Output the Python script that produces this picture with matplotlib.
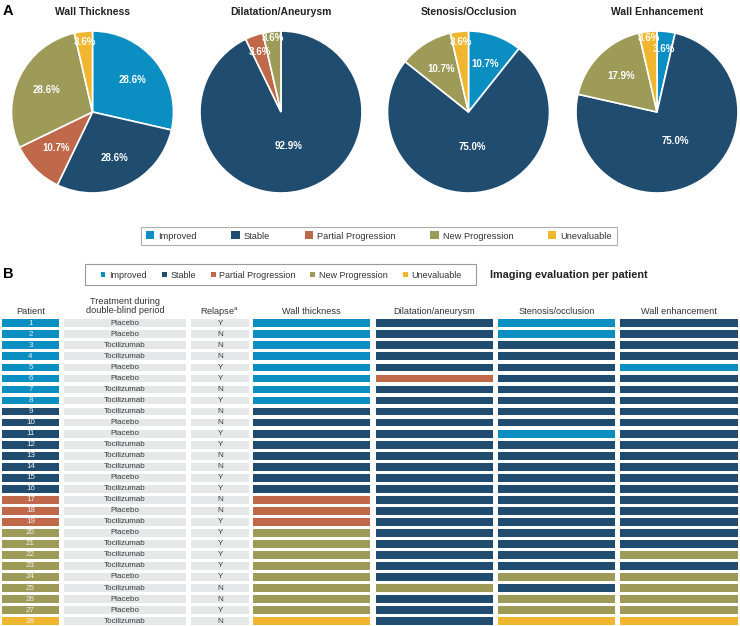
import matplotlib
matplotlib.use('Agg')
import matplotlib.pyplot as plt
from matplotlib.patches import Patch, Rectangle
import numpy as np

plt.rcParams['font.family'] = ['Liberation Sans', 'DejaVu Sans']
plt.rcParams['mathtext.fontset'] = 'custom'
plt.rcParams['mathtext.rm'] = 'Liberation Sans'
plt.rcParams['mathtext.it'] = 'Liberation Sans:italic'
plt.rcParams['mathtext.bf'] = 'Liberation Sans:bold'

W, H = 740, 626

# ---------------- data ----------------
categories = ['Improved', 'Stable', 'Partial Progression', 'New Progression', 'Unevaluable']
cat_colors = ['#0b8ec2', '#1f4c6f', '#c0694a', '#9e9b59', '#f1b630']
code_names = {'I': 'Improved', 'S': 'Stable', 'P': 'Partial Progression',
              'N': 'New Progression', 'U': 'Unevaluable'}

pie_titles = ['Wall Thickness', 'Dilatation/Aneurysm', 'Stenosis/Occlusion', 'Wall Enhancement']
pie_cats = [
    ['Improved', 'Stable', 'Partial Progression', 'New Progression', 'Unevaluable'],
    ['Stable', 'Partial Progression', 'New Progression'],
    ['Improved', 'Stable', 'New Progression', 'Unevaluable'],
    ['Improved', 'Stable', 'New Progression', 'Unevaluable'],
]
pie_values = [
    [28.6, 28.6, 10.7, 28.6, 3.6],
    [92.9, 3.6, 3.6],
    [10.7, 75.0, 10.7, 3.6],
    [3.6, 75.0, 17.9, 3.6],
]

patients = [str(i) for i in range(1, 29)]
treatment = ['Placebo', 'Placebo', 'Tocilizumab', 'Tocilizumab', 'Placebo', 'Placebo',
             'Tocilizumab', 'Tocilizumab', 'Tocilizumab', 'Placebo', 'Placebo', 'Tocilizumab',
             'Tocilizumab', 'Tocilizumab', 'Placebo', 'Tocilizumab', 'Tocilizumab', 'Placebo',
             'Tocilizumab', 'Placebo', 'Tocilizumab', 'Tocilizumab', 'Tocilizumab', 'Placebo',
             'Tocilizumab', 'Placebo', 'Placebo', 'Tocilizumab']
relapse = ['Y', 'N', 'N', 'N', 'Y', 'Y', 'N', 'Y', 'N', 'N', 'Y', 'Y', 'N', 'N',
           'Y', 'Y', 'N', 'N', 'Y', 'Y', 'Y', 'Y', 'Y', 'Y', 'N', 'N', 'Y', 'N']
wall_thickness = list('IIIIIIIISSSSSSSSPPPNNNNNNNNU')
dilatation     = list('SSSSSPSSSSSSSSSSSSSSSSSSNSSS')
stenosis       = list('IISSSSSSSSISSSSSSSSSSSSNSNNU')
wall_enh       = list('SSSSISSSSSSSSSSSSSSSSNSNNNNU')

table_headers = ['Wall thickness', 'Dilatation/aneurysm', 'Stenosis/occlusion', 'Wall enhancement']
imaging_cols = [wall_thickness, dilatation, stenosis, wall_enh]

color_of = dict(zip(categories, cat_colors))

# ---------------- figure ----------------
fig = plt.figure(figsize=(W / 100, H / 100), dpi=100)
base = fig.add_axes([0, 0, 1, 1])
base.set_xlim(0, W)
base.set_ylim(H, 0)
base.axis('off')


def px_axes(x0, y0, x1, y1):
    return fig.add_axes([x0 / W, 1 - y1 / H, (x1 - x0) / W, (y1 - y0) / H])


# ---- Panel A: pies ----
centers = [(92.5, 112), (281, 112), (468.5, 112), (657, 112)]
R = 81
for (cx, cy), title, cats, vals in zip(centers, pie_titles, pie_cats, pie_values):
    ax = px_axes(cx - R, cy - R, cx + R, cy + R)
    wedges, _ = ax.pie(vals, colors=[color_of[c] for c in cats], startangle=90,
                       counterclock=False,
                       wedgeprops=dict(edgecolor='white', linewidth=1.2, clip_on=False))
    ax.set_xlim(-1, 1)
    ax.set_ylim(-1, 1)
    total = sum(vals)
    n_small = sum(1 for v in vals if v / total < 0.05)
    for w, v, c in zip(wedges, vals, cats):
        frac = v / total
        ang = np.deg2rad((w.theta1 + w.theta2) / 2)
        if frac > 0.5:
            d = 0.43
        elif frac > 0.05:
            d = 0.63
        elif n_small > 1:
            d = 0.78 if c in ('Improved', 'Partial Progression') else 0.92
        else:
            d = 0.87
        ax.text(d * np.cos(ang), d * np.sin(ang), f'{v:.1f}%', ha='center', va='center',
                color='white', fontsize=7, fontweight='bold')
    fig.text(cx / W, 1 - 12 / H, title, ha='center', va='center', fontsize=7.5,
             fontweight='bold', color='#222222')

fig.text(3 / W, 1 - 11 / H, 'A', ha='left', va='center', fontsize=10.5, fontweight='bold')

handles = [Patch(facecolor=c, edgecolor='none', label=l) for l, c in zip(categories, cat_colors)]
legA = fig.legend(handles=handles, ncol=5, loc='center', bbox_to_anchor=(379 / W, 1 - 236 / H),
                  fontsize=6.7, frameon=True, fancybox=False, edgecolor='#9a9a9a',
                  handlelength=0.9, handleheight=0.9, handletextpad=0.45,
                  columnspacing=3.7, borderpad=0.5)
legA.get_frame().set_linewidth(0.8)
for t in legA.get_texts():
    t.set_color('#333333')

# ---- Panel B ----
base.text(3, 274, 'B', ha='left', va='center', fontsize=10.5, fontweight='bold')
base.add_patch(Rectangle((85, 264), 391, 21, facecolor='none', edgecolor='#9a9a9a', lw=0.8))
legB = fig.legend(handles=handles, ncol=5, loc='center', bbox_to_anchor=(281 / W, 1 - 275 / H),
                  fontsize=6.5, frameon=False, handlelength=0.55, handleheight=0.55,
                  handletextpad=0.4, columnspacing=1.65, borderpad=0.3)
for t in legB.get_texts():
    t.set_color('#333333')
base.text(490, 275, 'Imaging evaluation per patient', ha='left', va='center',
          fontsize=7.8, fontweight='bold', color='#222222')

row0, pitch, bh = 323.3, 11.03, 7.8
ys = [row0 + i * pitch for i in range(len(patients))]

col_patient = (2, 59)
col_treat = (64, 186)
col_relapse = (191, 249)
col_img = [(253, 370), (376, 493), (498, 615), (620, 738)]
gray = '#e6e7e9'
txt_col = '#3c3c3c'
tsize = 5.8

# patient column
base.barh(ys, col_patient[1] - col_patient[0], left=col_patient[0], height=bh,
          color=[color_of[code_names[c]] for c in wall_thickness])
for y, p in zip(ys, patients):
    base.text((col_patient[0] + col_patient[1]) / 2, y, p, ha='center', va='center',
              fontsize=tsize, color='#eeeeee')
# treatment column
base.barh(ys, col_treat[1] - col_treat[0], left=col_treat[0], height=bh, color=gray)
for y, t in zip(ys, treatment):
    base.text((col_treat[0] + col_treat[1]) / 2, y, t, ha='center', va='center',
              fontsize=tsize, color=txt_col)
# relapse column
base.barh(ys, col_relapse[1] - col_relapse[0], left=col_relapse[0], height=bh, color=gray)
for y, r in zip(ys, relapse):
    base.text((col_relapse[0] + col_relapse[1]) / 2, y, r, ha='center', va='center',
              fontsize=tsize, color=txt_col)
# imaging columns
for (x0, x1), col in zip(col_img, imaging_cols):
    base.barh(ys, x1 - x0, left=x0, height=bh,
              color=[color_of[code_names[c]] for c in col])

# headers
hsize = 6.6
hcol = '#333333'
base.text(sum(col_patient) / 2, 312, 'Patient', ha='center', va='center', fontsize=hsize, color=hcol)
base.text(sum(col_treat) / 2, 306, 'Treatment during\ndouble-blind period', ha='center',
          va='center', fontsize=hsize, color=hcol, linespacing=1.0)
base.text(sum(col_relapse) / 2, 312, r'Relapse$^{\mathrm{a}}$', ha='center', va='center',
          fontsize=hsize, color=hcol)
for (x0, x1), h in zip(col_img, table_headers):
    base.text((x0 + x1) / 2, 312, h, ha='center', va='center', fontsize=hsize, color=hcol)

fig.savefig('out.png', dpi=100)
